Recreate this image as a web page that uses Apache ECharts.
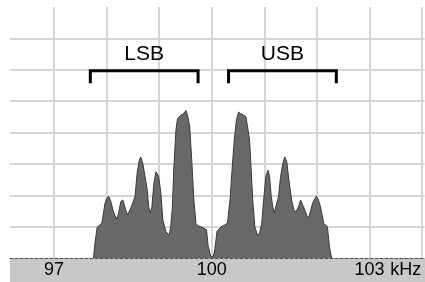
<!DOCTYPE html>
<html>
<head>
<meta charset="utf-8">
<script src="https://cdn.jsdelivr.net/npm/echarts@6/dist/echarts.min.js"></script>
<style>
  html, body { margin: 0; padding: 0; background: #fff; }
  #chart { width: 425px; height: 282px; }
</style>
</head>
<body>
<div id="chart"></div>
<script>
// spectrum, kHz / relative level
var lsbFreq = [97.75, 97.78, 97.82, 97.87, 97.91, 97.97, 98.00, 98.04, 98.08, 98.12,
	98.16, 98.20, 98.23, 98.27, 98.31, 98.36, 98.40, 98.47, 98.54, 98.58,
	98.62, 98.65, 98.69, 98.73, 98.77, 98.80, 98.83, 98.86, 98.90, 98.94,
	98.96, 98.99, 99.03, 99.07, 99.13, 99.19, 99.22, 99.25, 99.28, 99.32,
	99.35, 99.41, 99.46, 99.51, 99.54, 99.58, 99.62, 99.66, 99.70, 99.74,
	99.79, 99.85, 99.90, 99.93, 99.98, 100.00];
var lsbLevel = [0, 0.5, 0.98, 1.05, 1.12, 1.75, 1.9, 1.97, 1.8, 1.53,
	1.35, 1.24, 1.45, 1.8, 1.85, 1.55, 1.37, 1.63, 1.95, 2.7,
	3.1, 3.22, 3.0, 2.6, 2.2, 1.63, 1.45, 1.6, 2.39, 2.75,
	2.8, 2.6, 2.1, 1.21, 0.83, 0.73, 1.0, 1.6, 2.9, 4.1,
	4.45, 4.55, 4.6, 4.7, 4.55, 4.2, 3.1, 1.85, 1.1, 1.02,
	1.0, 0.95, 0.9, 0.4, 0.05, 0];
var usbFreq = [100.03, 100.06, 100.10, 100.18, 100.25, 100.30, 100.35, 100.39, 100.43, 100.47,
	100.51, 100.55, 100.61, 100.65, 100.68, 100.72, 100.75, 100.78, 100.82, 100.87,
	100.91, 100.95, 100.99, 101.03, 101.07, 101.10, 101.13, 101.16, 101.19, 101.22,
	101.27, 101.31, 101.35, 101.39, 101.43, 101.46, 101.52, 101.56, 101.60, 101.65,
	101.69, 101.72, 101.77, 101.81, 101.84, 101.88, 101.92, 101.99, 102.03, 102.07,
	102.13, 102.20, 102.24, 102.28];
var usbLevel = [0.05, 0.3, 0.85, 1.0, 1.05, 1.12, 1.9, 2.9, 3.8, 4.4,
	4.65, 4.6, 4.55, 4.5, 4.2, 3.76, 2.8, 1.85, 1.0, 0.73,
	0.8, 1.1, 1.9, 2.6, 2.8, 2.6, 2.0, 1.63, 1.45, 1.5,
	1.95, 2.6, 3.0, 3.22, 3.05, 2.58, 1.85, 1.55, 1.47, 1.63,
	1.85, 1.88, 1.53, 1.35, 1.27, 1.5, 1.75, 1.97, 1.85, 1.63,
	1.1, 1.0, 0.35, 0];

// sideband brackets
var bandNames = ['LSB', 'USB'];
var bandStart = [97.69, 100.32];
var bandEnd = [99.74, 102.37];
var bandTop = 5.97;
var bandFoot = 5.57;
var bandLabelLevel = 6.5;

var tickLabels = [97, 100, 103];

var spectrum = [];
for (var i = 0; i < lsbFreq.length; i++) spectrum.push([lsbFreq[i], lsbLevel[i]]);
for (var i = 0; i < usbFreq.length; i++) spectrum.push([usbFreq[i], usbLevel[i]]);

var font = 'Liberation Sans';
var series = [{
	type: 'line',
	data: spectrum,
	showSymbol: false,
	lineStyle: { color: '#3a3a3a', width: 1 },
	areaStyle: { color: '#686868', opacity: 1 },
	silent: true
}];
for (var i = 0; i < bandNames.length; i++) {
	series.push({
		type: 'line',
		data: [[bandStart[i], bandFoot], [bandStart[i], bandTop], [bandEnd[i], bandTop], [bandEnd[i], bandFoot]],
		showSymbol: false,
		lineStyle: { color: '#000', width: 3, join: 'miter', cap: 'butt' },
		silent: true
	});
}
series.push({
	type: 'scatter',
	symbolSize: 0,
	itemStyle: { opacity: 1 },
	data: bandNames.map(function (n, i) {
		return { name: n, value: [(bandStart[i] + bandEnd[i]) / 2, bandLabelLevel] };
	}),
	label: {
		show: true, position: 'inside', formatter: '{b}',
		fontFamily: font, fontSize: 21, color: '#000', opacity: 1,
		textBorderWidth: 0, textShadowBlur: 0
	},
	silent: true
});

var myChart = echarts.init(document.getElementById('chart'));
var option = {
	animation: false,
	backgroundColor: '#fff',
	grid: { left: 10, right: 0, top: 7, bottom: 24 },
	graphic: [{
		type: 'rect', left: 10, top: 258, z: -1,
		shape: { width: 415, height: 24 },
		style: { fill: '#c8c8c8' }
	}],
	xAxis: {
		type: 'value',
		min: 96.162,
		max: 104.047,
		splitNumber: 8,
		name: 'kHz',
		nameLocation: 'end',
		nameGap: -36,
		nameTextStyle: { fontFamily: font, fontSize: 18, color: '#000', verticalAlign: 'top', align: 'left', padding: [3, 0, 0, 0] },
		axisLine: { lineStyle: { color: '#505050', width: 1, type: [3, 2] } },
		axisTick: { show: false },
		axisLabel: {
			margin: 3,
			fontFamily: font, fontSize: 18, color: '#000',
			showMinLabel: false, showMaxLabel: false,
			formatter: function (v) {
				return tickLabels.indexOf(Math.round(v * 1000) / 1000) >= 0 ? String(v) : '';
			}
		},
		splitLine: { show: true, showMinLine: false, showMaxLine: false, lineStyle: { color: '#d6d6d6', width: 2 } }
	},
	yAxis: {
		type: 'value',
		min: 0, max: 8, interval: 1,
		axisLine: { show: false },
		axisTick: { show: false },
		axisLabel: { show: false },
		splitLine: { show: true, showMinLine: false, showMaxLine: false, lineStyle: { color: '#d6d6d6', width: 2 } }
	},
	series: series
};
myChart.setOption(option);
</script>
</body>
</html>
